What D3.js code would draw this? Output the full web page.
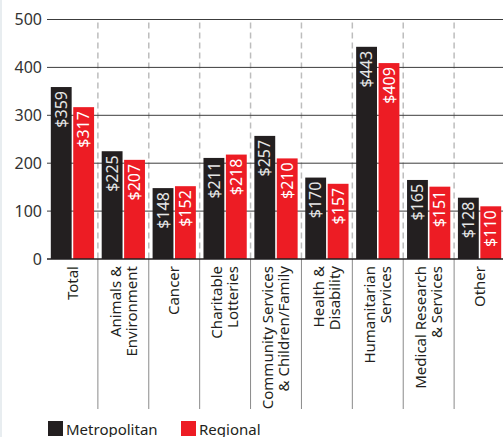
<!DOCTYPE html>
<html lang="en">
<head>
  <meta charset="utf-8"/>
  <title>Donations by cause</title>
  <script src="https://cdnjs.cloudflare.com/ajax/libs/d3/7.8.5/d3.min.js"></script>
  <style>
    html, body { margin: 0; padding: 0; background: #fff; }
    svg { display: block; font-family: "Noto Sans", "Open Sans", sans-serif; }
  </style>
</head>
<body>
<svg id="chart" width="503" height="437"></svg>
<script>
  var categories = [
    ["Total"],
    ["Animals &", "Environment"],
    ["Cancer"],
    ["Charitable", "Lotteries"],
    ["Community Services", "& Children/Family"],
    ["Health &", "Disability"],
    ["Humanitarian", "Services"],
    ["Medical Research", "& Services"],
    ["Other"]
  ];
  var seriesNames = ["Metropolitan", "Regional"];
  var metropolitan = [359, 225, 148, 211, 257, 170, 443, 165, 128];
  var regional = [317, 207, 152, 218, 210, 157, 409, 151, 110];
  var yTicks = [0, 100, 200, 300, 400, 500];

  var colors = { Metropolitan: "#231f20", Regional: "#ed1c24" };
  var labelColors = { Metropolitan: "#e6e6e6", Regional: "#ffffff" };

  var svg = d3.select("#chart");

  // faint panel edge on the left
  svg.append("rect").attr("x", 0).attr("y", 0).attr("width", 2).attr("height", 437).attr("fill", "#e8edf0");

  var x0 = d3.scaleBand()
    .domain(d3.range(categories.length))
    .range([47, 505])
    .padding(0);

  var x1 = d3.scaleBand()
    .domain(seriesNames)
    .range([0, x0.bandwidth()])
    .paddingInner(0.07)
    .paddingOuter(0.17);

  var y = d3.scaleLinear().domain([0, 500]).range([259, 19.5]);

  // dashed separators above the axis, solid ones below
  var seps = d3.range(1, categories.length);
  svg.selectAll(".sep-dash").data(seps).enter().append("line")
    .attr("x1", d => x0(d)).attr("x2", d => x0(d))
    .attr("y1", y(500) + 3).attr("y2", y(0))
    .attr("stroke", "#bdbdbd").attr("stroke-width", 1.5)
    .attr("stroke-dasharray", "6,4");
  svg.selectAll(".sep-solid").data(seps).enter().append("line")
    .attr("x1", d => x0(d)).attr("x2", d => x0(d))
    .attr("y1", y(0)).attr("y2", 409)
    .attr("stroke", "#8a8a8a").attr("stroke-width", 1);

  // gridlines
  svg.selectAll(".grid").data(yTicks.filter(d => d > 0)).enter().append("line")
    .attr("x1", 47).attr("x2", 505)
    .attr("y1", d => y(d)).attr("y2", d => y(d))
    .attr("stroke", "#3c3c3c").attr("stroke-width", 1);

  // y tick labels
  svg.selectAll(".ytick").data(yTicks).enter().append("text")
    .attr("x", 42).attr("y", d => y(d))
    .attr("dy", "0.36em")
    .attr("text-anchor", "end")
    .attr("fill", "#333")
    .style("font-size", "16px")
    .text(d => d);

  // bars
  var rows = [];
  categories.forEach(function(c, i) {
    rows.push({ i: i, s: "Metropolitan", v: metropolitan[i] });
    rows.push({ i: i, s: "Regional", v: regional[i] });
  });

  svg.selectAll(".bar").data(rows).enter().append("rect")
    .attr("x", d => x0(d.i) + x1(d.s))
    .attr("y", d => y(d.v))
    .attr("width", x1.bandwidth())
    .attr("height", d => y(0) - y(d.v))
    .attr("fill", d => colors[d.s]);

  svg.selectAll(".val").data(rows).enter().append("text")
    .attr("transform", d => "translate(" + (x0(d.i) + x1(d.s) + x1.bandwidth() / 2) + "," + (y(d.v) + 4) + ") rotate(-90)")
    .attr("text-anchor", "end")
    .attr("dy", "0.35em")
    .attr("fill", d => labelColors[d.s])
    .style("font-size", "16px")
    .text(d => "$" + d.v);

  // zero line
  svg.append("line")
    .attr("x1", 47).attr("x2", 505)
    .attr("y1", y(0)).attr("y2", y(0))
    .attr("stroke", "#231f20").attr("stroke-width", 1.6);

  // category labels
  var lineH = 16;
  svg.selectAll(".cat").data(categories).enter().append("text")
    .attr("transform", (d, i) => "translate(" + (x0(i) + x0.bandwidth() / 2) + ",266) rotate(-90)")
    .attr("text-anchor", "end")
    .attr("fill", "#231f20")
    .style("font-size", "15px")
    .each(function(d) {
      var t = d3.select(this);
      var start = -(d.length - 1) * lineH / 2;
      d.forEach(function(line, k) {
        t.append("tspan")
          .attr("x", 0)
          .attr("y", start + k * lineH)
          .attr("dy", "0.35em")
          .text(line);
      });
    });

  // legend
  var legend = svg.selectAll(".leg").data(seriesNames).enter().append("g")
    .attr("transform", (d, i) => "translate(" + [48, 181][i] + ",421)");
  legend.append("rect").attr("width", 15).attr("height", 15).attr("fill", d => colors[d]);
  legend.append("text")
    .attr("x", 18).attr("y", 13.5)
    .attr("fill", "#231f20")
    .style("font-size", "15px")
    .text(d => d);
</script>
</body>
</html>
